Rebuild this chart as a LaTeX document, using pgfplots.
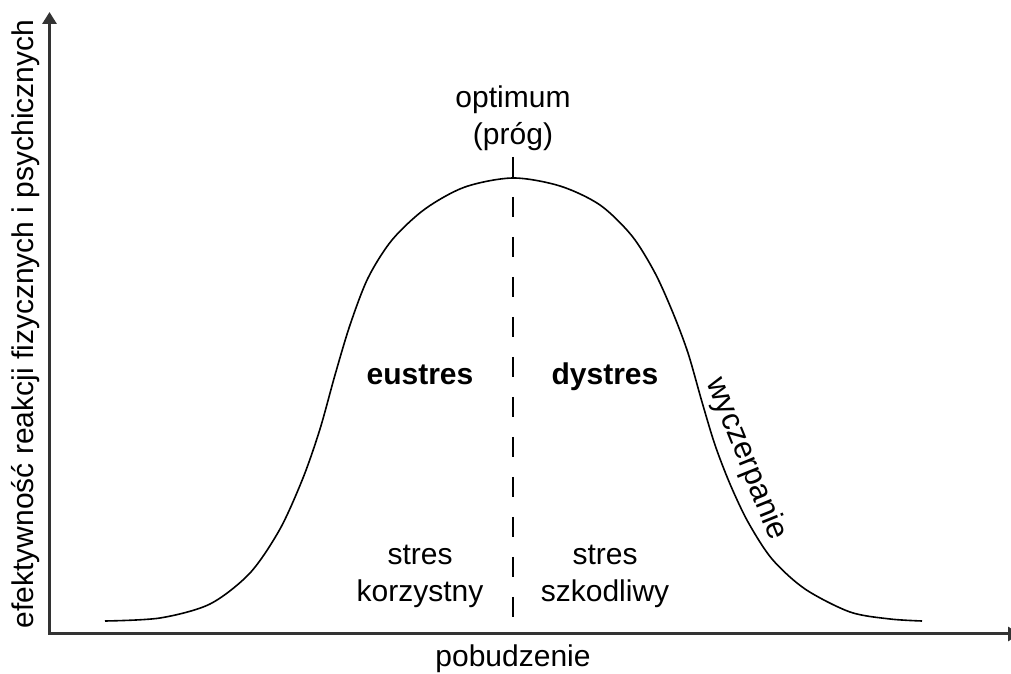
\documentclass[border=0pt]{standalone}
\usepackage{pgfplots}
\pgfplotsset{compat=1.18}
\usepackage{fontspec}
\setmainfont{Liberation Sans}
\usetikzlibrary{arrows.meta}
\definecolor{axisgray}{HTML}{333333}
\begin{document}
\begin{tikzpicture}
\useasboundingbox (0,0) rectangle (505.5pt,337pt);
\begin{axis}[
  anchor=south west, at={(0,0)},
  scale only axis, width=505.5pt, height=337pt,
  xmin=0, xmax=1011, ymin=-40, ymax=634,
  hide axis, clip=false,
]
% curve (x in px, y = height above the x axis in px)
\addplot[smooth, line width=0.8pt, black] coordinates {
(105,13) (160,16) (210,30) (250,61) (280,105) (303,156) (320,205) (335,259)
(350,309) (368,356) (392,394) (425,425) (465,447) (513,456)
(560,448) (600,429) (632,398) (655,361) (673,321) (688,281) (702,232) (715,189)
(730,150) (748,112) (772,75) (805,45) (850,22) (890,15) (922,13)
};
% optimum threshold
\addplot[line width=0.6pt, black, dash pattern=on 10pt off 10pt] coordinates {(513,477) (513,14)};
% axes
\draw[line width=1.5pt, axisgray, -{Triangle[length=6pt,width=7pt]}] (axis cs:49.5,-0.75) -- (axis cs:49.5,622);
\draw[line width=1.5pt, axisgray, -{Triangle[length=6pt,width=7pt]}] (axis cs:48.75,0) -- (axis cs:1020,0);
% texts
\begin{scope}[every node/.style={font=\fontsize{15}{18}\selectfont, inner sep=0pt, anchor=base}]
\node at (axis cs:513,526) {optimum};
\node at (axis cs:513,489) {(próg)};
\node[font=\fontsize{15}{18}\selectfont\bfseries] at (axis cs:420,249) {eustres};
\node[font=\fontsize{15}{18}\selectfont\bfseries] at (axis cs:605,249) {dystres};
\node at (axis cs:420,69) {stres};
\node at (axis cs:420,32) {korzystny};
\node at (axis cs:605,69) {stres};
\node at (axis cs:605,32) {szkodliwy};
\node at (axis cs:513,-33) {pobudzenie};
\node[rotate=90] at (axis cs:33.5,310) {efektywność reakcji fizycznych i psychicznych};
\node[rotate=-68, anchor=center, font=\fontsize{15.5}{18}\selectfont] at (axis cs:746,175) {wyczerpanie};
\end{scope}
\end{axis}
\end{tikzpicture}
\end{document}
